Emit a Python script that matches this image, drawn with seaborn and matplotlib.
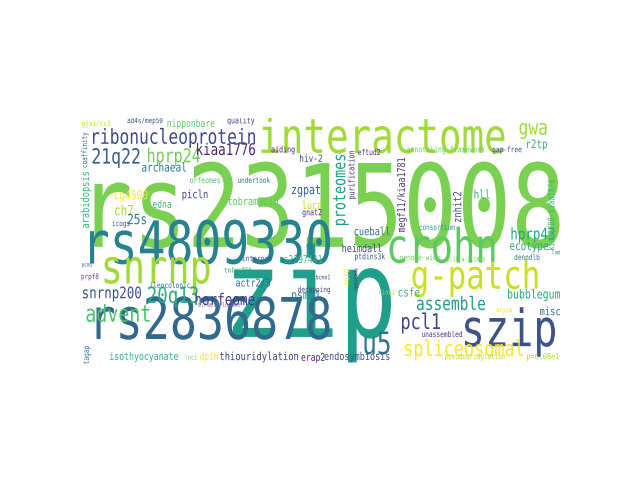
import matplotlib
matplotlib.use("Agg")
import matplotlib.pyplot as plt
import seaborn as sns
from matplotlib.textpath import TextPath
from matplotlib.patches import PathPatch
from matplotlib.font_manager import FontProperties
from matplotlib.transforms import Affine2D

sns.set_style("white")

# word, centre x, centre y (image px), text length px, colour
words = ["rs2315008", "zip", "interactome", "rs4809330", "crohn", "snrnp", "g-patch",
         "rs2836878", "szip", "ribonucleoprotein", "21q22", "hprp24", "kiaa1776", "archaeal",
         "gwa", "r2tp", "proteomes", "purification", "megf11/kiaa1781", "znhit2",
         "annotating framework", "gap-free", "eftud2", "hll", "cueball", "consortium", "hprp43",
         "nipponbare", "quality", "ad4s/mep50", "gjai/cx3", "aiding", "hiv-2", "arabidopsis",
         "coaffinity", "orfeomes", "undertook", "cg4500", "picln", "zgpat", "tobramycin", "luca",
         "edna", "ch7", "25s", "icogs", "gnat2", "pcm1", "prpf8", "interpro", "rs2297441",
         "tnfrsf6b", "actr2/3", "ileocolonic", "decapping", "snrnp200", "20q13", "horfeome",
         "psmg1", "dl/methylosome", "advent", "isothyocyanate", "loci", "dpim", "thiouridylation",
         "erap2", "tagap", "endosymbiosis", "heimdall", "ptdins3k", "genome-wide", "il18ra-il18rb",
         "ecotype", "denndlb", "kiaa1780-kiaa1878", "misc", "nurd", "reassembly", "riok1", "csfe",
         "bubblegum", "assemble", "oryza", "pcl1", "u5", "spliceosomal", "unassembled",
         "pseudouridylation", "p=6.08e10", "lsm", "bcmo1"]
cx = [327, 312, 383, 210, 442, 157, 475, 213, 510, 174, 116, 174, 226, 164, 533, 537, 341,
      352, 402, 457, 446, 507, 369, 482, 372, 437, 533, 191, 241, 145, 96, 283, 311, 86, 85,
      205, 254, 131, 195, 306, 253, 312, 162, 124, 137, 121, 312, 87, 90, 257, 301, 238, 253,
      170, 314, 112, 173, 225, 306, 219, 118, 144, 191, 209, 259, 313, 87, 357, 362, 370,
      420, 466, 529, 527, 551, 550, 346, 356, 387, 409, 534, 451, 504, 421, 377, 464, 442,
      475, 545, 556, 323]
cy = [205, 303, 135, 242, 245, 275, 278, 318, 332, 138, 158, 157, 149, 167, 131, 145, 190,
      175, 195, 207, 150, 150, 152, 194, 231, 227, 235, 124, 121, 121, 124, 150, 158, 200,
      150, 180, 180, 196, 195, 191, 202, 205, 204, 210, 219, 224, 213, 265, 277, 259, 259,
      270, 283, 285, 290, 294, 297, 299, 296, 305, 313, 357, 357, 357, 357, 358, 355, 357,
      248, 257, 258, 259, 247, 257, 215, 311, 277, 279, 292, 292, 295, 303, 311, 323, 343,
      350, 334, 357, 357, 252, 277]
length = [465, 158, 243, 240, 105, 105, 125, 233, 90, 162, 47, 52, 58, 44, 27, 20, 70, 48,
          74, 30, 78, 29, 22, 15, 35, 35, 43, 47, 27, 35, 28, 23, 22, 56, 35, 30, 32, 33, 25,
          28, 50, 19, 18, 18, 18, 17, 19, 10, 17, 29, 42, 27, 34, 40, 32, 58, 50, 59, 28, 42,
          63, 68, 12, 18, 78, 23, 18, 65, 39, 30, 40, 38, 38, 25, 70, 20, 15, 22, 15, 21, 52,
          68, 15, 38, 25, 118, 40, 60, 36, 8, 14]
colors = ["#7ad151", "#1f9e89", "#a0da39", "#26828e", "#5ec962", "#a0da39", "#c8e020",
          "#31688e", "#3b528b", "#3e4989", "#355f8d", "#6ece58", "#482576", "#2a788e",
          "#a0da39", "#31b57b", "#1fa187", "#472d7b", "#443983", "#3e4a89", "#6ece58",
          "#404688", "#482878", "#35b779", "#2c728e", "#21918c", "#20a386", "#5ec962",
          "#46337e", "#3b528b", "#c2df23", "#482677", "#3e4989", "#35b779", "#2e6f8e",
          "#4ac16d", "#2d708e", "#fde725", "#414487", "#355f8d", "#5ec962", "#bddf26",
          "#31b57b", "#addc30", "#25848e", "#3b528b", "#472a7a", "#3b528b", "#6a3d9a",
          "#3b528b", "#35b779", "#2db27d", "#31688e", "#2c728e", "#414487", "#3b528b",
          "#29af7f", "#443983", "#26828e", "#7e6ba8", "#4ac16d", "#2fb47c", "#7ad151",
          "#fde725", "#414487", "#482173", "#2a788e", "#3b528b", "#3e4989", "#3b528b",
          "#6ece58", "#6ece58", "#29af7f", "#2c728e", "#35b779", "#2a788e", "#fde725",
          "#482878", "#b5de2b", "#35b779", "#25ab82", "#1f9e89", "#d8e219", "#414487",
          "#2c728e", "#fde725", "#5a2d8b", "#b5de2b", "#addc30", "#2a788e", "#3b528b"]
vertical = {"proteomes", "purification", "megf11/kiaa1781", "znhit2", "arabidopsis",
            "coaffinity", "tagap", "kiaa1780-kiaa1878", "nurd", "reassembly"}

fig = plt.figure(figsize=(6.4, 4.8), dpi=100)
ax = fig.add_axes([80 / 640, 1 - 366 / 480, 480 / 640, 248 / 480])
ax.set_xlim(80, 560)
ax.set_ylim(366, 118)
ax.axis("off")

prop = FontProperties(family="DejaVu Sans Mono")
stretch = 1.28  # the reference font is taller and narrower
for w, x, y, L, c in zip(words, cx, cy, length, colors):
    tp = TextPath((0, 0), w, size=1, prop=prop)
    ext = tp.get_extents()
    s = L / ext.width
    tr = Affine2D().translate(-(ext.x0 + ext.x1) / 2, -(ext.y0 + ext.y1) / 2)
    if w in vertical:
        tr = tr.scale(s, s * stretch).rotate_deg(90).scale(1, -1).translate(x, y)
    else:
        tr = tr.scale(s, -s * stretch).translate(x, y)
    ax.add_patch(PathPatch(tr.transform_path(tp), facecolor=c, lw=0))

fig.savefig("out.png", dpi=100)
